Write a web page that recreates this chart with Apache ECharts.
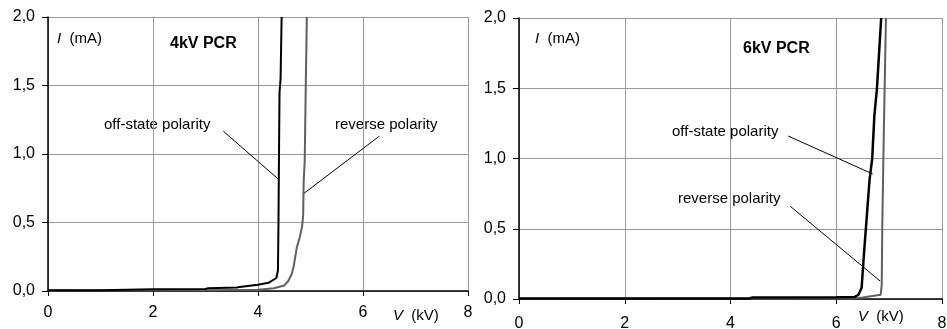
<!DOCTYPE html>
<html>
<head>
<meta charset="utf-8">
<script src="https://cdn.jsdelivr.net/npm/echarts@6/dist/echarts.min.js"></script>
<style>
  html, body { margin: 0; padding: 0; background: #fff; }
  #chart { width: 947px; height: 329px; }
</style>
</head>
<body>
<div id="chart"></div>
<script>
var myChart = echarts.init(document.getElementById('chart'));

// 4kV PCR, V in kV, I in mA
var v4Off = [0, 1.0, 1.02, 2.0, 3.0, 3.05, 3.6, 3.65, 4.0, 4.2, 4.35, 4.38, 4.39, 4.40, 4.41, 4.43, 4.45];
var i4Off = [0.005, 0.005, 0.01, 0.012, 0.015, 0.02, 0.025, 0.03, 0.045, 0.06, 0.095, 0.15, 0.5, 1.0, 1.45, 1.55, 2.0];
var v4Rev = [0, 3.0, 4.0, 4.3, 4.5, 4.57, 4.64, 4.68, 4.74, 4.8, 4.84, 4.86, 4.87, 4.89, 4.91, 4.93];
var i4Rev = [0.004, 0.005, 0.01, 0.02, 0.04, 0.07, 0.12, 0.18, 0.32, 0.4, 0.47, 0.55, 0.8, 0.95, 1.5, 2.0];

// 6kV PCR
var v6Off = [0, 4.35, 4.4, 6.0, 6.35, 6.42, 6.48, 6.52, 6.58, 6.63, 6.68, 6.72, 6.77, 6.81, 6.85];
var i6Off = [0.003, 0.003, 0.01, 0.012, 0.015, 0.03, 0.08, 0.3, 0.6, 0.85, 1.0, 1.3, 1.5, 1.75, 2.0];
var v6Rev = [0, 6.3, 6.5, 6.84, 6.86, 6.87, 6.9, 6.94];
var i6Rev = [0.002, 0.003, 0.01, 0.03, 0.1, 0.5, 1.2, 2.0];

var xTicks = [0, 2, 4, 6, 8];
var yTicks = [0, 0.5, 1.0, 1.5, 2.0];

// leader lines [x1, y1, x2, y2] in data units
var lead4Off = [3.34, 1.166, 4.39, 0.816];
var lead4Rev = [6.31, 1.13, 4.88, 0.714];
var lead6Off = [5.09, 1.16, 6.69, 0.89];
var lead6Rev = [5.13, 0.66, 6.83, 0.128];

function pairs(xs, ys) {
    return xs.map(function (x, i) { return [x, ys[i]]; });
}

function leader(l) {
    return {
        silent: true,
        symbol: 'none',
        animation: false,
        lineStyle: { color: '#000', width: 1, type: 'solid' },
        label: { show: false },
        data: [[{ coord: [l[0], l[1]] }, { coord: [l[2], l[3]] }]]
    };
}

var fontFam = '"Liberation Sans", Arial, sans-serif';

function xAxis(idx, margin) {
    return {
        type: 'value', gridIndex: idx, min: xTicks[0], max: xTicks[xTicks.length - 1], interval: 2,
        axisLine: { show: true, onZero: false, lineStyle: { color: '#000', width: 1.5 } },
        axisTick: { show: true, length: 5, lineStyle: { color: '#000' } },
        axisLabel: { color: '#000', fontSize: 16, fontFamily: fontFam, margin: margin },
        splitLine: { show: true, lineStyle: { color: '#999', width: 1 } }
    };
}

function yAxis(idx) {
    return {
        type: 'value', gridIndex: idx, min: yTicks[0], max: yTicks[yTicks.length - 1], interval: 0.5,
        axisLine: { show: true, lineStyle: { color: '#000', width: 1.5 } },
        axisTick: { show: true, length: 6, lineStyle: { color: '#000' } },
        axisLabel: {
            color: '#000', fontSize: 16, fontFamily: fontFam, margin: 13,
            formatter: function (v) { return v.toFixed(1).replace('.', ','); }
        },
        splitLine: { show: true, lineStyle: { color: '#999', width: 1 } }
    };
}

function txt(left, top, text, opts) {
    opts = opts || {};
    return {
        type: 'text', left: left, top: top,
        style: {
            text: text, fill: '#000', fontSize: opts.size || 15, fontFamily: fontFam,
            fontWeight: opts.bold ? 'bold' : 'normal',
            rich: { i: { fontStyle: 'italic', fontSize: opts.size || 15, fontFamily: fontFam } }
        }
    };
}

var option = {
    backgroundColor: '#fff',
    animation: false,
    grid: [
        { left: 48, top: 17, width: 420, height: 274, outerBoundsMode: 'none', containLabel: false },
        { left: 519, top: 18, width: 423, height: 281, outerBoundsMode: 'none', containLabel: false }
    ],
    xAxis: [xAxis(0, 14), xAxis(1, 17)],
    yAxis: [yAxis(0), yAxis(1)],
    series: [
        {
            name: '4kV reverse', type: 'line', xAxisIndex: 0, yAxisIndex: 0,
            showSymbol: false, data: pairs(v4Rev, i4Rev),
            lineStyle: { color: '#606060', width: 2 },
            markLine: leader(lead4Rev)
        },
        {
            name: '4kV off-state', type: 'line', xAxisIndex: 0, yAxisIndex: 0,
            showSymbol: false, data: pairs(v4Off, i4Off),
            lineStyle: { color: '#000', width: 2 },
            markLine: leader(lead4Off)
        },
        {
            name: '6kV reverse', type: 'line', xAxisIndex: 1, yAxisIndex: 1,
            showSymbol: false, data: pairs(v6Rev, i6Rev),
            lineStyle: { color: '#606060', width: 2 },
            markLine: leader(lead6Rev)
        },
        {
            name: '6kV off-state', type: 'line', xAxisIndex: 1, yAxisIndex: 1,
            showSymbol: false, data: pairs(v6Off, i6Off),
            lineStyle: { color: '#000', width: 2.5 },
            markLine: leader(lead6Off)
        }
    ],
    graphic: [
        txt(57, 31, '{i|I}  (mA)'),
        txt(170, 36, '4kV PCR', { bold: true, size: 16 }),
        txt(104, 117, 'off-state polarity'),
        txt(335, 117, 'reverse polarity'),
        txt(393, 308, '{i|V}  (kV)'),
        txt(535, 31, '{i|I}  (mA)'),
        txt(743, 41, '6kV PCR', { bold: true, size: 16 }),
        txt(672, 124, 'off-state polarity'),
        txt(678, 191, 'reverse polarity'),
        txt(858, 309, '{i|V}  (kV)')
    ]
};

myChart.setOption(option);
</script>
</body>
</html>
